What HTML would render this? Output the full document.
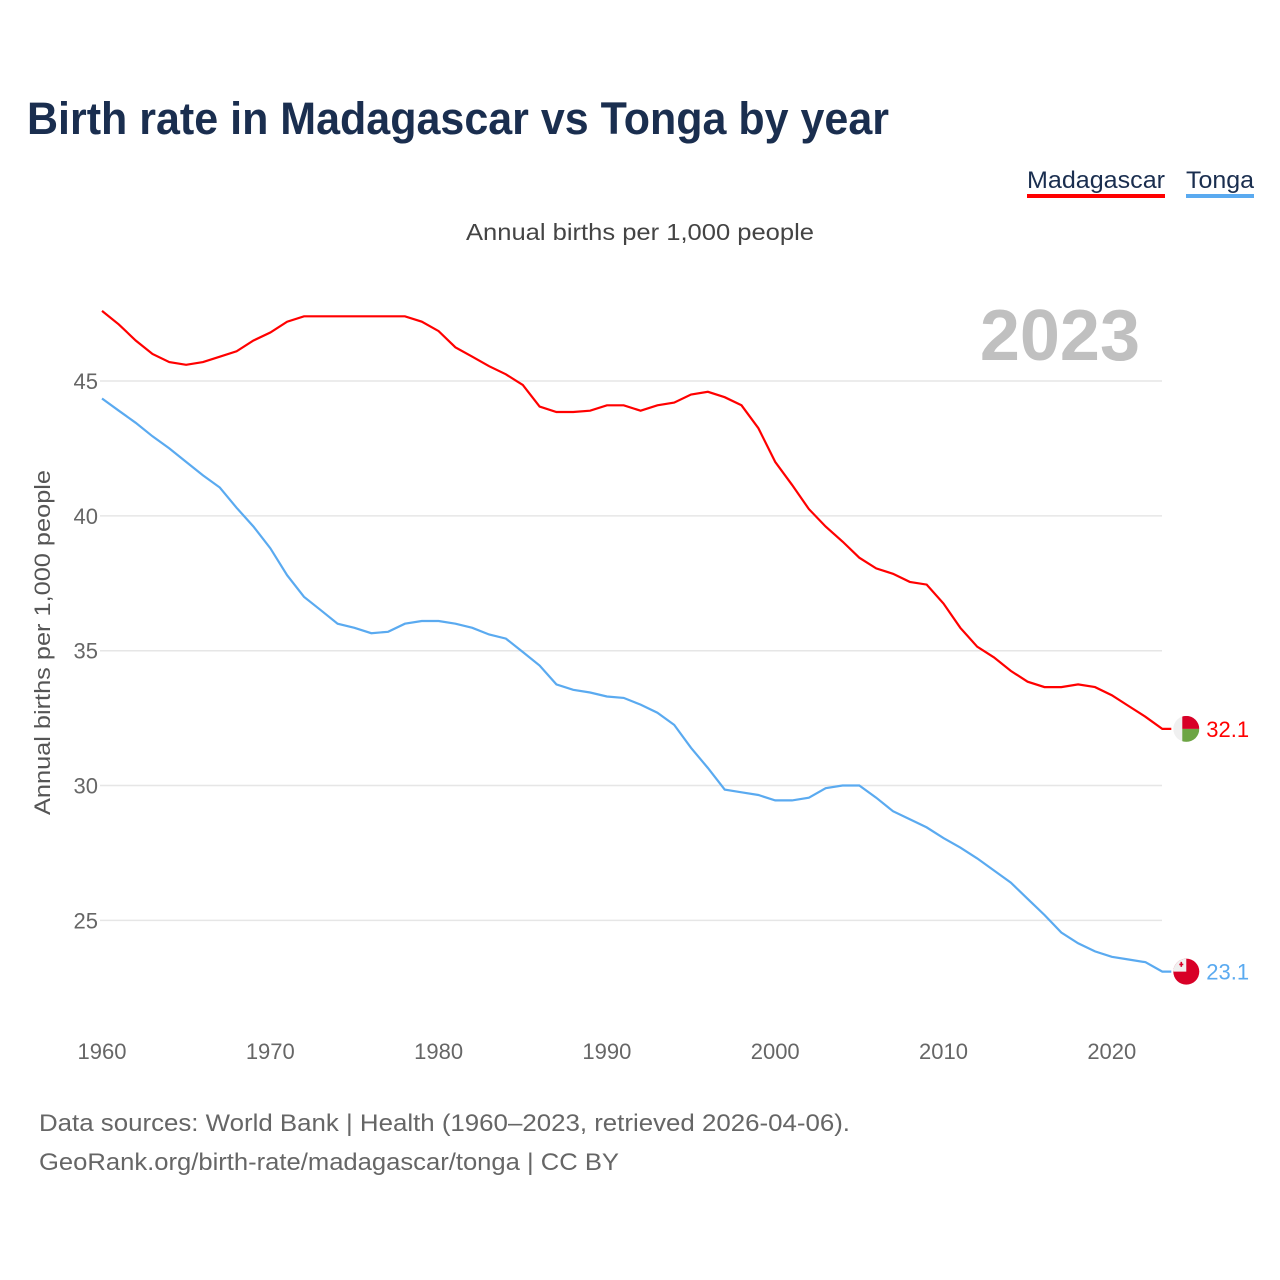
<!DOCTYPE html>
<html><head><meta charset="utf-8"><style>
body{margin:0;background:#fff;font-family:"Liberation Sans",sans-serif}
#wrap{position:relative;width:1280px;height:1280px;overflow:hidden}
</style></head><body>
<div id="wrap">
<svg id="chart" width="1280" height="1280">
<text x="27" y="134" font-size="45" font-weight="bold" fill="#1a2e4f" textLength="862" lengthAdjust="spacingAndGlyphs">Birth rate in Madagascar vs Tonga by year</text>
<g>
<text x="1027" y="188" font-size="24" fill="#1a2e4f" textLength="138" lengthAdjust="spacingAndGlyphs">Madagascar</text>
<rect x="1027" y="194" width="138" height="4" fill="#ff0000"/>
<text x="1186" y="188" font-size="24" fill="#1a2e4f" textLength="68" lengthAdjust="spacingAndGlyphs">Tonga</text>
<rect x="1186" y="194" width="68" height="4" fill="#5aaaf0"/>
</g>
<text x="466" y="240" font-size="23" fill="#444" textLength="348" lengthAdjust="spacingAndGlyphs">Annual births per 1,000 people</text>
<text x="1140" y="360" font-size="72" font-weight="bold" fill="#c0c0c0" text-anchor="end">2023</text>
<text transform="translate(50,815) rotate(-90)" font-size="22" fill="#555" textLength="345" lengthAdjust="spacingAndGlyphs">Annual births per 1,000 people</text>
<g id="grid"></g><g id="lines"></g><g id="ends"></g>
<text x="39" y="1131" font-size="24" fill="#666" textLength="811" lengthAdjust="spacingAndGlyphs">Data sources: World Bank | Health (1960–2023, retrieved 2026-04-06).</text>
<text x="39" y="1170" font-size="24" fill="#666" textLength="580" lengthAdjust="spacingAndGlyphs">GeoRank.org/birth-rate/madagascar/tonga | CC BY</text>
</svg>
</div>
<script>
const years=[];for(let y=1960;y<=2023;y++)years.push(y);
const madagascar=[47.6,47.1,46.5,46.0,45.7,45.6,45.7,45.9,46.1,46.5,46.8,47.2,47.4,47.4,47.4,47.4,47.4,47.4,47.4,47.2,46.85,46.25,45.9,45.55,45.25,44.85,44.05,43.85,43.85,43.9,44.1,44.1,43.9,44.1,44.2,44.5,44.6,44.4,44.1,43.25,42.0,41.15,40.25,39.6,39.05,38.45,38.05,37.85,37.55,37.45,36.75,35.85,35.15,34.75,34.25,33.85,33.65,33.65,33.75,33.65,33.35,32.95,32.55,32.1];
const tonga=[44.35,43.9,43.45,42.95,42.5,42.0,41.5,41.05,40.3,39.6,38.8,37.8,37.0,36.5,36.0,35.85,35.65,35.7,36.0,36.1,36.1,36.0,35.85,35.6,35.45,34.95,34.45,33.75,33.55,33.45,33.3,33.25,33.0,32.7,32.25,31.4,30.65,29.85,29.75,29.65,29.45,29.45,29.55,29.9,30.0,30.0,29.55,29.05,28.75,28.45,28.05,27.7,27.3,26.85,26.4,25.8,25.2,24.55,24.15,23.85,23.65,23.55,23.45,23.1];
const yTicks=[25,30,35,40,45];
const xTicks=[1960,1970,1980,1990,2000,2010,2020];
const NS="http://www.w3.org/2000/svg";
const X=v=>102+(v-1960)*16.83;
const Y=v=>381+(45-v)*26.97;
function mk(t,a,p){const e=document.createElementNS(NS,t);for(const k in a)e.setAttribute(k,a[k]);p.appendChild(e);return e;}
const grid=document.getElementById('grid');
yTicks.forEach(t=>{
 const l=mk('line',{x1:100,x2:1162,y1:Y(t),y2:Y(t),stroke:'#e6e6e6','stroke-width':1.5},grid);
 
 
 const tx=mk('text',{x:98,y:Y(t)+8,'font-size':22,fill:'#666','text-anchor':'end'},grid);
 tx.textContent=t;
 
 
});
xTicks.forEach(t=>{
 const tx=mk('text',{x:X(t),y:1059,'font-size':22,fill:'#666','text-anchor':'middle'},grid);
 tx.textContent=t;
 
 
});
const lines=document.getElementById('lines');
[[madagascar,'#ff0000','madagascar'],[tonga,'#5aaaf0','tonga']].forEach(([d,c,n])=>{
 let dd=d.map((v,i)=>(i?'L':'M')+X(years[i]).toFixed(1)+','+Y(v).toFixed(1)).join('');
 dd+='h9';
 const p=mk('path',{d:dd,fill:'none',stroke:c,'stroke-width':2.2},lines);
 
 
});
const ends=document.getElementById('ends');
const lx=X(2023)+24;
let ym=Y(madagascar[madagascar.length-1]);
let g=mk('g',{},ends);


const cp=mk('clipPath',{id:'cm'},g);
mk('circle',{cx:lx,cy:ym,r:13},cp);
let gg=mk('g',{'clip-path':'url(#cm)'},g);
mk('rect',{x:lx-13,y:ym-13,width:26,height:26,fill:'#f0f0f0'},gg);
mk('rect',{x:lx-4,y:ym-13,width:17,height:13,fill:'#d80027'},gg);
mk('rect',{x:lx-4,y:ym,width:17,height:13,fill:'#6da544'},gg);
let t=mk('text',{x:lx+20,y:ym+8,'font-size':22,fill:'#ff0000'},ends);t.textContent=madagascar[madagascar.length-1].toFixed(1);


let yt=Y(tonga[tonga.length-1]);
g=mk('g',{},ends);


mk('circle',{cx:lx,cy:yt,r:13,fill:'#d80027'},g);
mk('path',{d:`M${lx-13},${yt} A13,13 0 0 1 ${lx},${yt-13} L${lx},${yt} Z`,fill:'#f0f0f0'},g);
mk('rect',{x:lx-7,y:yt-8,width:4,height:1.6,fill:'#d80027'},g);
mk('rect',{x:lx-5.8,y:yt-9.8,width:1.6,height:5,fill:'#d80027'},g);
t=mk('text',{x:lx+20,y:yt+8,'font-size':22,fill:'#5aaaf0'},ends);t.textContent=tonga[tonga.length-1].toFixed(1);


</script>
</body></html>
